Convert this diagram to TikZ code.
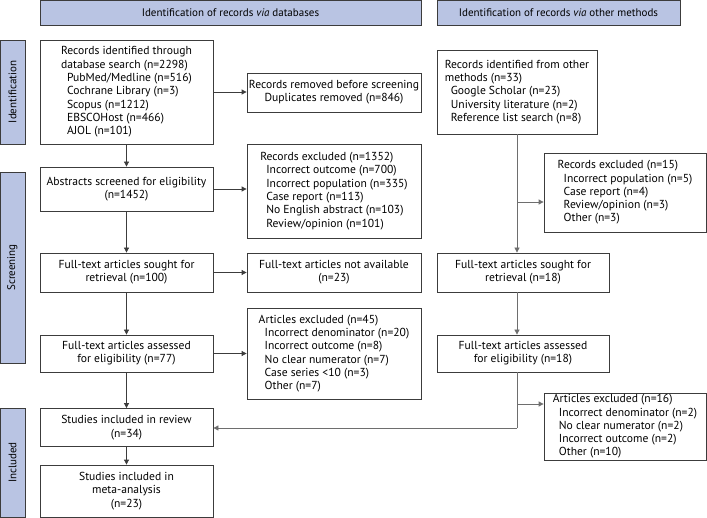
\documentclass[tikz,border=0pt]{standalone}
\usepackage{fontspec}
\setmainfont{PT Sans}
\usetikzlibrary{arrows.meta}
\definecolor{hdr}{HTML}{B9C4E3}
\definecolor{ln}{HTML}{3C3C3C}
\definecolor{lnr}{HTML}{6E6E6E}
\begin{document}
\begin{tikzpicture}[x=1pt,y=-1pt,
  every node/.style={font=\fontsize{11.6}{13.3}\selectfont, inner sep=0pt},
  box/.style={draw=ln, line width=0.8pt, fill=white},
  lbox/.style={box, align=left},
  cbox/.style={box, align=center},
  hbox/.style={draw=ln, line width=0.8pt, fill=hdr, align=center, font=\fontsize{11}{13.3}\selectfont},
  arr/.style={draw=ln, line width=0.8pt, -{Triangle[length=5pt,width=5pt]}},
  arrr/.style={draw=lnr, line width=0.8pt, -{Triangle[length=5pt,width=5pt]}},
  lnrs/.style={draw=lnr, line width=0.8pt}
]
\useasboundingbox (0,0) rectangle (707,518);
\def\ind{\hspace*{6pt}}
% headers
\node[hbox, minimum width=381pt, minimum height=25pt] (h1) at (230.5,12.5) {Identification of records \textit{via} databases};
\node[hbox, minimum width=243pt, minimum height=25pt] (h2) at (558.5,12.5) {Identification of records \textit{via} other methods};
% side labels
\node[hbox, minimum width=104pt, minimum height=25pt, rotate=90] (s1) at (12.5,92) {Identification};
\node[hbox, minimum width=191pt, minimum height=25pt, rotate=90] (s2) at (12.5,267.5) {Screening};
\node[hbox, minimum width=109pt, minimum height=25pt, rotate=90] (s3) at (12.5,462.5) {Included};
% left column
\node[lbox, minimum width=173pt, minimum height=104pt] (b1) at (126.5,92) {Records identified through\\database search (n=2298)\\\ind PubMed/Medline (n=516)\\\ind Cochrane Library (n=3)\\\ind Scopus (n=1212)\\\ind EBSCOHost (n=466)\\\ind AJOL (n=101)};
\node[cbox, minimum width=173pt, minimum height=44pt] (b2) at (126.5,189) {Abstracts screened for eligibility\\(n=1452)};
\node[cbox, minimum width=173pt, minimum height=39pt] (b3) at (126.5,272.5) {Full-text articles sought for\\retrieval (n=100)};
\node[cbox, minimum width=173pt, minimum height=37pt] (b4) at (126.5,353.5) {Full-text articles assessed\\for eligibility (n=77)};
\node[cbox, minimum width=173pt, minimum height=38pt] (b5) at (126.5,427.5) {Studies included in review\\(n=34)};
\node[cbox, minimum width=173pt, minimum height=52pt] (b6) at (126.5,491) {Studies included in\\meta-analysis\\(n=23)};
% middle column
\node[cbox, minimum width=174pt, minimum height=39pt] (m1) at (334,92.5) {Records removed before screening\\Duplicates removed (n=846)};
\node[lbox, minimum width=174pt, minimum height=94pt] (m2) at (334,191) {Records excluded (n=1352)\\\ind Incorrect outcome (n=700)\\\ind Incorrect population (n=335)\\\ind Case report (n=113)\\\ind No English abstract (n=103)\\\ind Review/opinion (n=101)};
\node[cbox, minimum width=174pt, minimum height=39pt] (m3) at (334,272.5) {Full-text articles not available\\(n=23)};
\node[lbox, minimum width=174pt, minimum height=91pt] (m4) at (334,353.5) {Articles excluded (n=45)\\\ind Incorrect denominator (n=20)\\\ind Incorrect outcome (n=8)\\\ind No clear numerator (n=7)\\\ind Case series <10 (n=3)\\\ind Other (n=7)};
% right column
\node[lbox, minimum width=160pt, minimum height=84pt] (r1) at (517,92) {Records identified from other\\methods (n=33)\\\ind Google Scholar (n=23)\\\ind University literature (n=2)\\\ind Reference list search (n=8)};
\node[lbox, minimum width=162pt, minimum height=79pt] (r2) at (625,192.5) {Records excluded (n=15)\\\ind Incorrect population (n=5)\\\ind Case report (n=4)\\\ind Review/opinion (n=3)\\\ind Other (n=3)};
\node[cbox, minimum width=172pt, minimum height=39pt] (r3) at (523,272.5) {Full-text articles sought for\\retrieval (n=18)};
\node[cbox, minimum width=172pt, minimum height=37pt] (r4) at (523,353.5) {Full-text articles assessed\\for eligibility (n=18)};
\node[lbox, minimum width=162pt, minimum height=67pt] (r5) at (625,426.5) {Articles excluded (n=16)\\\ind Incorrect denominator (n=2)\\\ind No clear numerator (n=2)\\\ind Incorrect outcome (n=2)\\\ind Other (n=10)};
% left connectors
\draw[arr] (b1) -- (b2);
\draw[arr] (b2) -- (b3);
\draw[arr] (b3) -- (b4);
\draw[arr] (b4) -- (b5);
\draw[arr] (b5) -- (b6);
\draw[arr] (b1.east) -- (b1.east -| m1.west);
\draw[arr] (b2.east) -- (b2.east -| m2.west);
\draw[arr] (b3.east) -- (b3.east -| m3.west);
\draw[arr] (b4.east) -- (b4.east -| m4.west);
% right connectors
\coordinate (j1) at (517,202);
\coordinate (j2) at (517,404);
\coordinate (j3) at (517,428);
\draw[arrr] (r1.south) -- (r1.south |- r3.north);
\draw[arrr] (j1) -- (j1 -| r2.west);
\draw[arrr] (r1.south |- r3.south) -- (r1.south |- r4.north);
\draw[lnrs] (r1.south |- r4.south) -- (j3);
\draw[arrr] (j3) -- (j3 -| b5.east);
\draw[arrr] (j2) -- (j2 -| r5.west);
\end{tikzpicture}
\end{document}
